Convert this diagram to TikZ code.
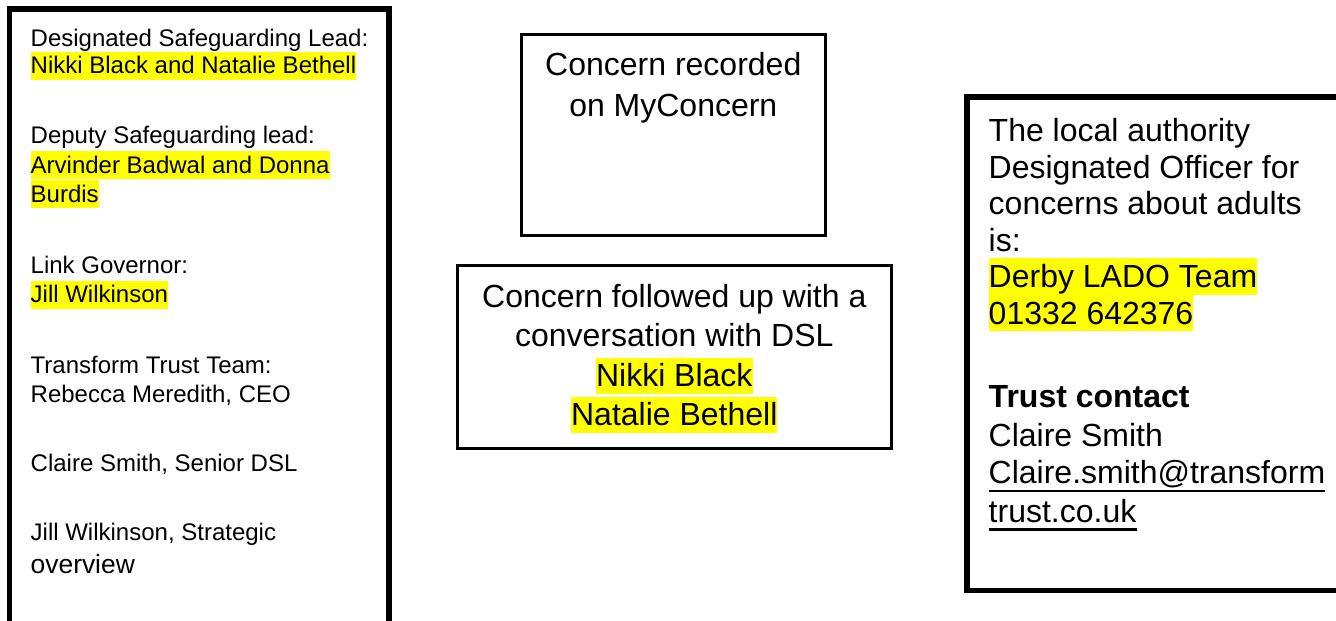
\documentclass[tikz,border=0pt]{standalone}
\usepackage{fontspec}
\setmainfont{Liberation Sans}
\definecolor{hlyellow}{RGB}{255,255,0}
\tikzset{
  lt/.style={font=\fontsize{24}{28}\selectfont, inner sep=0pt, anchor=base west},
  ltbig/.style={font=\fontsize{26.4}{30}\selectfont, inner sep=0pt, anchor=base west},
  mt/.style={font=\fontsize{32}{38}\selectfont, inner sep=0pt, anchor=base},
  rt/.style={font=\fontsize{32}{38}\selectfont, inner sep=0pt, anchor=base west},
  hls/.style={fill=hlyellow, text height=22pt, text depth=6pt},
  hlb/.style={fill=hlyellow, text height=29.2pt, text depth=7.4pt},
  thickbox/.style={draw=black, line width=5.5pt},
  thinbox/.style={draw=black, line width=2.7pt},
  ul/.style={draw=black, line width=2.8pt}
}
\begin{document}
\begin{tikzpicture}[x=1pt,y=-1pt]
\useasboundingbox (0,0) rectangle (1336,621);
\clip (0,0) rectangle (1336,621);
\fill[white] (0,0) rectangle (1336,621);

% boxes
\draw[thickbox] (9.3,640) -- (9.3,9) -- (389.2,9) -- (389.2,640);
\draw[thinbox] (521.3,34.7) rectangle (825.3,235.3);
\draw[thinbox] (457.3,265.3) rectangle (891.3,448.7);
\draw[thickbox] (1350,97) -- (967,97) -- (967,590.3) -- (1350,590.3);

% left box text
\node[lt] (l1) at (30.5,46.5) {Designated Safeguarding Lead:};
\node[lt,hls] (l2) at (30.5,73.8) {Nikki Black and Natalie Bethell};
\node[lt] (l3) at (30.5,143.5) {Deputy Safeguarding lead:};
\node[lt,hls] (l4) at (30.5,173) {Arvinder Badwal and Donna};
\node[lt,hls] (l5) at (30.5,202.3) {Burdis};
\node[lt] (l6) at (30.5,273.3) {Link Governor:};
\node[lt,hls] (l7) at (30.5,302.8) {Jill Wilkinson};
\node[lt] (l8) at (30.5,373.3) {Transform Trust Team:};
\node[lt] (l9) at (30.5,402.3) {Rebecca Meredith, CEO};
\node[lt] (l10) at (30.5,471) {Claire Smith, Senior DSL};
\node[lt] (l11) at (30.5,540.5) {Jill Wilkinson, Strategic};
\node[ltbig] (l12) at (30.5,573.3) {overview};

% middle box 1
\node[mt] (m1) at (673.3,75.5) {Concern recorded};
\node[mt] (m2) at (673.3,116) {on MyConcern};

% middle box 2
\node[mt] (n1) at (674.3,307.2) {Concern followed up with a};
\node[mt] (n2) at (674.3,346.5) {conversation with DSL};
\node[mt,hlb] (n3) at (674.3,386.8) {Nikki Black};
\node[mt,hlb] (n4) at (674.3,425.8) {Natalie Bethell};

% right box
\node[rt] (r1) at (988.5,141.7) {The local authority};
\node[rt] (r2) at (988.5,178.2) {Designated Officer for};
\node[rt] (r3) at (988.5,214.4) {concerns about adults};
\node[rt] (r4) at (988.5,251) {is:};
\node[rt,hlb] (r5) at (988.5,287.6) {Derby LADO Team};
\node[rt,hlb] (r6) at (988.5,324) {01332 642376};
\node[rt,font=\fontsize{32}{38}\selectfont\bfseries] (r7) at (988.5,407.6) {Trust contact};
\node[rt] (r8) at (988.5,446) {Claire Smith};
\node[rt] (r9) at (988.5,483.5) {Claire.smith@transform};
\node[rt] (r10) at (988.5,522) {trust.co.uk};
\draw[ul] ([yshift=-7.5pt]r9.base west) -- ([yshift=-7.5pt]r9.base east);
\draw[ul] ([yshift=-7.5pt]r10.base west) -- ([yshift=-7.5pt]r10.base east);
\end{tikzpicture}
\end{document}
